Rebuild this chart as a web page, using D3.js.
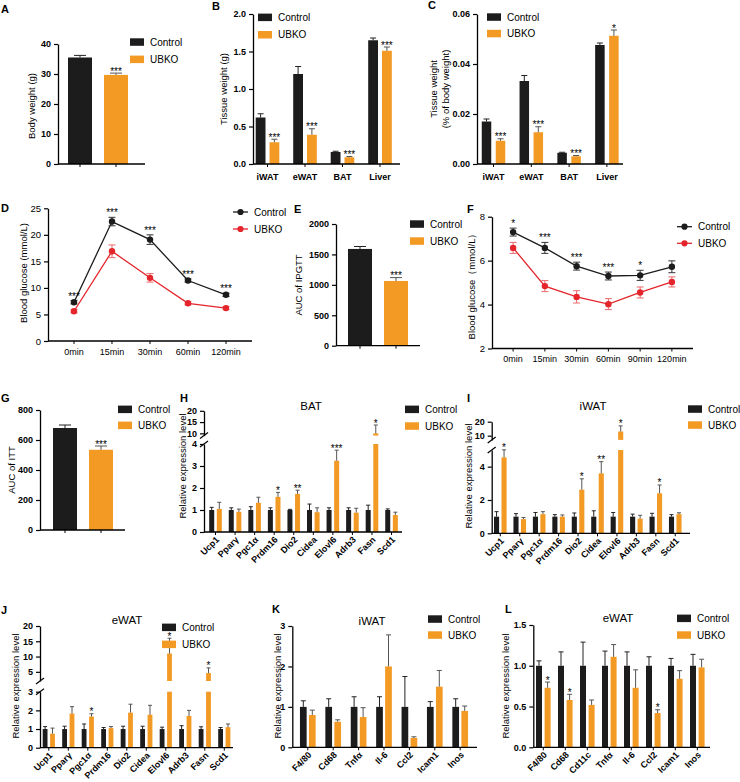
<!DOCTYPE html>
<html><head><meta charset="utf-8">
<script src="https://cdn.jsdelivr.net/npm/d3@7"></script>
<style>body{margin:0;background:#fff} svg{display:block} text{font-family:"Liberation Sans",Arial,Helvetica,sans-serif}</style>
</head><body><script>
// ---------------- DATA ----------------
const seriesNames = ["Control","UBKO"];
// A body weight
const bodyWeight = [35.5, 29.7];
const bodyWeightErr = [0.7, 0.6];
const bodyWeightSig = ["", "***"];
const ticksA = [0,10,20,30,40];
// B tissue weight
const tissues = ["iWAT","eWAT","BAT","Liver"];
const tissueCtrl = [0.62,1.20,0.16,1.65];
const tissueCtrlErr = [0.05,0.10,0.01,0.03];
const tissueUbko = [0.29,0.39,0.09,1.51];
const tissueUbkoErr = [0.04,0.08,0.01,0.05];
const tissueSig = ["***","***","***","***"];
const ticksB = [0,0.5,1.0,1.5,2.0];
// C tissue weight (% body weight)
const tissuePctCtrl = [0.0170,0.0332,0.0045,0.0476];
const tissuePctCtrlErr = [0.0010,0.0022,0.0002,0.0008];
const tissuePctUbko = [0.0093,0.0127,0.0031,0.0513];
const tissuePctUbkoErr = [0.0008,0.0022,0.0003,0.0023];
const tissuePctSig = ["***","***","***","*"];
const ticksC = [0,0.02,0.04,0.06];
// D IPGTT
const ipgttTimes = ["0min","15min","30min","60min","120min"];
const ipgttCtrl = [7.3,22.5,19.1,11.4,8.7];
const ipgttCtrlErr = [0.3,0.8,0.9,0.3,0.3];
const ipgttUbko = [5.6,16.9,11.9,7.1,6.2];
const ipgttUbkoErr = [0.3,1.2,0.8,0.3,0.3];
const ipgttSig = ["***","***","***","***","***"];
const ticksD = [0,5,10,15,20,25];
// E AUC IPGTT
const aucIpgtt = [1590,1064];
const aucIpgttErr = [40,55];
const aucIpgttSig = ["","***"];
const ticksE = [0,500,1000,1500,2000];
// F ITT
const ittTimes = ["0min","15min","30min","60min","90min","120min"];
const ittCtrl = [7.3,6.58,5.75,5.3,5.33,5.72];
const ittCtrlErr = [0.18,0.25,0.18,0.18,0.23,0.27];
const ittUbko = [6.58,4.84,4.35,4.02,4.55,5.03];
const ittUbkoErr = [0.25,0.25,0.28,0.25,0.25,0.23];
const ittSig = ["*","***","***","***","*",""];
const ticksF = [2,4,6,8];
// G AUC ITT
const aucItt = [680,535];
const aucIttErr = [20,25];
const aucIttSig = ["","***"];
const ticksG = [0,200,400,600,800];
// H-J thermogenic / lipogenic genes
const thermoGenes = ["Ucp1","Pparγ","Pgc1α","Prdm16","Dio2","Cidea","Elovl6","Adrb3","Fasn","Scd1"];
const batCtrl = [1,1,1,1,1,1,1,1,1,1];
const batCtrlErr = [0.12,0.1,0.15,0.1,0.03,0.27,0.1,0.1,0.22,0.05];
const batUbko = [1.05,0.92,1.33,1.6,1.73,0.9,3.24,0.88,10.0,0.77];
const batUbkoErr = [0.3,0.12,0.25,0.2,0.17,0.2,0.48,0.2,3.7,0.13];
const batSig = ["","","","*","**","","***","","*",""];
const ticksHLow = [0,1,2,3,4], ticksHHigh = [10,15,20];
const iwatCtrl = [1,1,1,1,1,1,1,1,1,1];
const iwatCtrlErr = [0.3,0.18,0.25,0.12,0.22,0.35,0.25,0.15,0.2,0.12];
const iwatUbko = [4.56,0.85,1.15,1.0,2.62,3.6,13,0.88,2.4,1.15];
const iwatUbkoErr = [0.45,0.1,0.15,0.1,0.65,0.7,4,0.2,0.5,0.08];
const iwatSig = ["*","","","","*","**","*","","*",""];
const ticksILow = [0,2,4], ticksIHigh = [10,20];
const ewatCtrl = [1,1,1,1,1,1,1,1,1,1];
const ewatCtrlErr = [0.13,0.15,0.27,0.08,0.15,0.15,0.1,0.18,0.12,0.08];
const ewatUbko = [0.75,1.83,1.67,1.05,1.88,1.77,11,1.7,4.6,1.1];
const ewatUbkoErr = [0.3,0.37,0.15,0.08,0.45,0.5,5,0.3,1.7,0.17];
const ewatSig = ["","","*","","","","*","","*",""];
const ticksJLow = [0,1,2,3], ticksJHigh = [5,10,15,20];
// K iWAT inflammation
const inflamGenesK = ["F4/80","Cd68","Tnfα","Il-6","Ccl2","Icam1","Inos"];
const iwatInfCtrl = [1,1,1,1,1,1,1];
const iwatInfCtrlErr = [0.15,0.2,0.25,0.25,0.75,0.13,0.2];
const iwatInfUbko = [0.8,0.63,0.75,2.0,0.23,1.5,0.9];
const iwatInfUbkoErr = [0.12,0.05,0.23,0.78,0.03,0.4,0.12];
const ticksK = [0,1,2,3];
// L eWAT inflammation
const inflamGenesL = ["F4/80","Cd68","Cd11c","Tnfα","Il-6","Ccl2","Icam1","Inos"];
const ewatInfCtrl = [1,1,1,1,1,1,1,1];
const ewatInfCtrlErr = [0.06,0.17,0.29,0.18,0.17,0.11,0.09,0.14];
const ewatInfUbko = [0.73,0.58,0.52,1.11,0.73,0.42,0.84,0.98];
const ewatInfUbkoErr = [0.07,0.07,0.06,0.15,0.22,0.04,0.1,0.1];
const ewatInfSig = ["*","*","","","","*","",""];
const ticksL = [0,0.5,1.0,1.5];

// ---------------- DRAWING ----------------
const FONT = '"Liberation Sans", Arial, Helvetica, sans-serif';
const CTRL = "#1c1c1c", UB = "#f29a24", RED = "#e4252b";
const ECTRL = "#222", EUB = "#555";
const plain = d => String(d);
const svg = d3.select("body").append("svg").attr("width",740).attr("height",782).style("font-family",FONT);

function yAxis(g, scale, x, ticks, fmt, bold, fs) {
  const ax = d3.axisLeft(scale).tickValues(ticks).tickSize(4).tickSizeOuter(0).tickPadding(3).tickFormat(fmt || plain);
  const a = g.append("g").attr("transform",`translate(${x},0)`).call(ax);
  a.select(".domain").attr("stroke","#000").attr("stroke-width",1.3);
  a.selectAll(".tick line").attr("stroke","#000").attr("stroke-width",1.2);
  a.selectAll(".tick text").attr("fill","#000").style("font-size",(fs||9)+"px")
    .style("font-weight",bold?"bold":"normal").style("font-family",FONT);
  return a;
}
function yTitle(x, y, lines, fs) {
  const t = svg.append("text").attr("transform",`translate(${x},${y}) rotate(-90)`)
    .attr("text-anchor","middle").style("font-size",(fs||9.5)+"px");
  lines.forEach((l,i)=> t.append("tspan").attr("x",0)
    .attr("dy", i===0 ? (-(lines.length-1)*0.65+0.35)+"em" : "1.3em").text(l));
}
function letter(x,y,s){ svg.append("text").attr("x",x).attr("y",y).text(s).style("font-size","11px").style("font-weight","bold"); }
function title(x,y,s){ svg.append("text").attr("x",x).attr("y",y).attr("text-anchor","middle").text(s).style("font-size","11.5px"); }
function legendRect(x, y, gap, items){
  items.forEach((it,i)=>{
    svg.append("rect").attr("x",x).attr("y",y+i*gap-3.7).attr("width",14).attr("height",7.5).attr("fill",it.color);
    svg.append("text").attr("x",x+20).attr("y",y+i*gap).attr("dy","0.35em").text(it.name).style("font-size","10px");
  });
}
function legendLine(x, y, gap, items){
  items.forEach((it,i)=>{
    svg.append("line").attr("x1",x).attr("x2",x+15).attr("y1",y+i*gap).attr("y2",y+i*gap).attr("stroke",it.color).attr("stroke-width",1.3);
    svg.append("circle").attr("cx",x+7.5).attr("cy",y+i*gap).attr("r",3.1).attr("fill",it.color);
    svg.append("text").attr("x",x+21).attr("y",y+i*gap).attr("dy","0.35em").text(it.name).style("font-size","10px");
  });
}

function barPanel(o){
  const g = svg.append("g");
  const yL = d3.scaleLinear().domain(o.yDomain).range(o.yRange);
  const yU = o.upDomain ? d3.scaleLinear().domain(o.upDomain).range(o.upRange) : null;
  const lowMax = o.yDomain[1];
  const base = o.yRange[0];
  const n = o.cats.length;
  const x0 = o.firstCenter - o.step/2;
  const x = d3.scaleBand().domain(o.cats).range([x0, x0 + o.step*n]);
  const ns = o.series.length, s = o.barW + o.gap;
  const xi = d3.scaleBand().domain(d3.range(ns)).range([0, o.step])
    .paddingInner(ns>1 ? o.gap/s : 0)
    .paddingOuter((o.step - ns*o.barW - (ns-1)*o.gap)/2/s);
  o.series.forEach((ser, si) => {
    o.cats.forEach((c, ci) => {
      const v = ser.vals[ci], e = ser.errs[ci];
      const color = ser.colors ? ser.colors[ci] : ser.color;
      const ecol = ser.errColors ? ser.errColors[ci] : ser.errColor;
      const bx = x(c) + xi(si), bw = xi.bandwidth(), cx = bx + bw/2;
      const broken = yU && v > lowMax;
      const sc = broken ? yU : yL;
      if (broken) {
        g.append("rect").attr("x",bx).attr("y",yL(lowMax)).attr("width",bw).attr("height",base-yL(lowMax)).attr("fill",color);
        g.append("rect").attr("x",bx).attr("y",yU(v)).attr("width",bw).attr("height",o.upRange[0]-yU(v)).attr("fill",color);
      } else {
        g.append("rect").attr("x",bx).attr("y",yL(v)).attr("width",bw).attr("height",base-yL(v)).attr("fill",color);
      }
      const yv = sc(v), yt = sc(v+e);
      g.append("line").attr("x1",cx).attr("x2",cx).attr("y1",yv).attr("y2",yt).attr("stroke",ecol).attr("stroke-width",1);
      g.append("line").attr("x1",cx-o.cap/2).attr("x2",cx+o.cap/2).attr("y1",yt).attr("y2",yt).attr("stroke",ecol).attr("stroke-width",1);
      if (ser.sig && ser.sig[ci]) g.append("text").attr("x",cx).attr("y",yt+1.5).attr("text-anchor","middle")
        .style("font-size","10px").text(ser.sig[ci]);
    });
  });
  yAxis(g, yL, o.axisX, o.ticks, o.fmt, o.bold);
  if (yU) {
    yAxis(g, yU, o.axisX, o.upTicks, o.fmt, o.bold);
    [o.yRange[1], o.upRange[0]].forEach(yb => {
      g.append("line").attr("x1",o.axisX-4).attr("x2",o.axisX+4).attr("y1",yb+3).attr("y2",yb-3)
        .attr("stroke","#000").attr("stroke-width",1.2);
    });
  }
  g.append("line").attr("x1",o.axisX).attr("x2",o.axisEnd).attr("y1",base).attr("y2",base).attr("stroke","#000").attr("stroke-width",1.3);
  o.cats.forEach(c => {
    const cx = x(c) + o.step/2;
    g.append("line").attr("x1",cx).attr("x2",cx).attr("y1",base).attr("y2",base+3).attr("stroke","#000").attr("stroke-width",1);
    if (o.xLabels === "flat") g.append("text").attr("x",cx).attr("y",o.xLabelY).attr("text-anchor","middle")
      .style("font-size","9px").style("font-weight","bold").text(c);
    if (o.xLabels === "rot") g.append("text").attr("transform",`translate(${cx+2},${base+6}) rotate(-45)`)
      .attr("text-anchor","end").attr("dy","0.35em").style("font-size","9px").style("font-weight","bold").text(c);
  });
}

function linePanel(o){
  const g = svg.append("g");
  const x = d3.scalePoint().domain(o.cats).range([o.axisX, o.axisEnd]).padding(o.pad);
  const y = d3.scaleLinear().domain(o.yDomain).range(o.yRange);
  const base = o.yRange[0];
  yAxis(g, y, o.axisX, o.ticks, null, false, 9.5);
  g.append("line").attr("x1",o.axisX).attr("x2",o.axisEnd).attr("y1",base).attr("y2",base).attr("stroke","#000").attr("stroke-width",1.3);
  o.cats.forEach(c => {
    g.append("line").attr("x1",x(c)).attr("x2",x(c)).attr("y1",base).attr("y2",base+3).attr("stroke","#000");
    g.append("text").attr("x",x(c)).attr("y",o.labelY).attr("text-anchor","middle").style("font-size","9px").text(c);
  });
  o.series.forEach(ser => {
    const line = d3.line().x((d,i)=>x(o.cats[i])).y(d=>y(d));
    g.append("path").attr("d",line(ser.vals)).attr("fill","none").attr("stroke",ser.color).attr("stroke-width",1.3);
    ser.vals.forEach((v,i) => {
      const cx = x(o.cats[i]), e = ser.errs[i];
      g.append("line").attr("x1",cx).attr("x2",cx).attr("y1",y(v-e)).attr("y2",y(v+e)).attr("stroke",ser.errColor).attr("stroke-width",1);
      [v-e, v+e].forEach(w => g.append("line").attr("x1",cx-3.5).attr("x2",cx+3.5).attr("y1",y(w)).attr("y2",y(w)).attr("stroke",ser.errColor).attr("stroke-width",1));
      g.append("circle").attr("cx",cx).attr("cy",y(v)).attr("r",3.2).attr("fill",ser.color);
      if (ser.sig && ser.sig[i]) g.append("text").attr("x",cx).attr("y",y(v+e)-1).attr("text-anchor","middle").style("font-size","10px").text(ser.sig[i]);
    });
  });
}

const legItems = [{name:seriesNames[0],color:CTRL},{name:seriesNames[1],color:UB}];

// A
letter(1,12.5,"A");
barPanel({cats:seriesNames, series:[{vals:bodyWeight, errs:bodyWeightErr, colors:[CTRL,UB], errColors:[ECTRL,EUB], sig:bodyWeightSig}],
  yDomain:[0,40], yRange:[164,44], ticks:ticksA, bold:true, axisX:58, axisEnd:145, firstCenter:80, step:36, barW:24, gap:0, cap:12});
yTitle(32,106,["Body weight (g)"]);
legendRect(130,42,17.3,legItems);

// B
letter(212,9.5,"B");
barPanel({cats:tissues, series:[{vals:tissueCtrl, errs:tissueCtrlErr, color:CTRL, errColor:ECTRL},{vals:tissueUbko, errs:tissueUbkoErr, color:UB, errColor:EUB, sig:tissueSig}],
  yDomain:[0,2], yRange:[164,14], ticks:ticksB, fmt:d3.format(".1f"), bold:true, axisX:253, axisEnd:400, firstCenter:267.5, step:37.5, barW:9.8, gap:4, cap:6, xLabels:"flat", xLabelY:180});
yTitle(224,89,["Tissue weight (g)"]);
legendRect(258,17.3,17.4,legItems);

// C
letter(428,8.5,"C");
barPanel({cats:tissues, series:[{vals:tissuePctCtrl, errs:tissuePctCtrlErr, color:CTRL, errColor:ECTRL},{vals:tissuePctUbko, errs:tissuePctUbkoErr, color:UB, errColor:EUB, sig:tissuePctSig}],
  yDomain:[0,0.06], yRange:[164,14], ticks:ticksC, fmt:d3.format(".2f"), bold:true, axisX:477, axisEnd:623, firstCenter:493.5, step:37.8, barW:9.5, gap:4.5, cap:6, xLabels:"flat", xLabelY:180});
yTitle(440,89,["Tissue weight","(% of body weight)"]);
legendRect(487,17,16.5,legItems);

// D
letter(1,212,"D");
linePanel({cats:ipgttTimes, yDomain:[0,25], yRange:[341,208.3], ticks:ticksD, axisX:48, axisEnd:252, pad:0.684, labelY:355,
  series:[{vals:ipgttUbko, errs:ipgttUbkoErr, color:RED, errColor:"#e8686b"},{vals:ipgttCtrl, errs:ipgttCtrlErr, color:CTRL, errColor:"#333", sig:ipgttSig}]});
yTitle(24,273,["Blood glucose (mmol/L)"]);
legendLine(233,212,17,[{name:seriesNames[0],color:CTRL},{name:seriesNames[1],color:RED}]);

// E
letter(294,213,"E");
barPanel({cats:seriesNames, series:[{vals:aucIpgtt, errs:aucIpgttErr, colors:[CTRL,UB], errColors:[ECTRL,EUB], sig:aucIpgttSig}],
  yDomain:[0,2000], yRange:[345.7,224], ticks:ticksE, bold:true, axisX:336, axisEnd:420, firstCenter:360, step:36, barW:24, gap:0, cap:12});
yTitle(299,285,["AUC of IPGTT"]);
legendRect(410,224,17,legItems);

// F
letter(467,213,"F");
linePanel({cats:ittTimes, yDomain:[2,8], yRange:[348.5,216.7], ticks:ticksF, axisX:492, axisEnd:693, pad:0.665, labelY:362,
  series:[{vals:ittUbko, errs:ittUbkoErr, color:RED, errColor:"#e8686b"},{vals:ittCtrl, errs:ittCtrlErr, color:CTRL, errColor:"#333", sig:ittSig}]});
yTitle(472,284,["Blood glucose（mmol/L）"]);
legendLine(677,226.7,16.6,[{name:seriesNames[0],color:CTRL},{name:seriesNames[1],color:RED}]);

// G
letter(1,402,"G");
barPanel({cats:seriesNames, series:[{vals:aucItt, errs:aucIttErr, colors:[CTRL,UB], errColors:[ECTRL,EUB], sig:aucIttSig}],
  yDomain:[0,800], yRange:[530,410], ticks:ticksG, bold:true, axisX:40, axisEnd:125, firstCenter:65, step:36, barW:24, gap:0, cap:12});
yTitle(12,470,["AUC of ITT"]);
legendRect(118,409.3,16,legItems);

// H
letter(180,402,"H");
barPanel({cats:thermoGenes, series:[{vals:batCtrl, errs:batCtrlErr, color:CTRL, errColor:ECTRL},{vals:batUbko, errs:batUbkoErr, color:UB, errColor:EUB, sig:batSig}],
  yDomain:[0,4], yRange:[532,444], ticks:ticksHLow, upDomain:[9,20], upRange:[435.6,410.8], upTicks:ticksHHigh, bold:true,
  axisX:204, axisEnd:402, firstCenter:215.5, step:19.56, barW:5, gap:2.6, cap:4, xLabels:"rot"});
yTitle(183,466,["Relative expression level"]);
title(311,410,"BAT");
legendRect(405,409.3,16.7,legItems);

// I
letter(467,402,"I");
barPanel({cats:thermoGenes, series:[{vals:iwatCtrl, errs:iwatCtrlErr, color:CTRL, errColor:ECTRL},{vals:iwatUbko, errs:iwatUbkoErr, color:UB, errColor:EUB, sig:iwatSig}],
  yDomain:[0,5], yRange:[533.3,450], ticks:ticksILow, upDomain:[7,20], upRange:[439.9,421.7], upTicks:ticksIHigh, bold:true,
  axisX:491.7, axisEnd:690, firstCenter:500.3, step:19.44, barW:5.1, gap:2.4, cap:4, xLabels:"rot"});
yTitle(469,476,["Relative expression level"]);
title(593,410,"iWAT");
legendRect(688,409,16,legItems);

// J
letter(1,614,"J");
barPanel({cats:thermoGenes, series:[{vals:ewatCtrl, errs:ewatCtrlErr, color:CTRL, errColor:ECTRL},{vals:ewatUbko, errs:ewatUbkoErr, color:UB, errColor:EUB, sig:ewatSig}],
  yDomain:[0,3], yRange:[747.7,691.7], ticks:ticksJLow, upDomain:[2,20], upRange:[681,626], upTicks:ticksJHigh, bold:true,
  axisX:40, axisEnd:233, firstCenter:48.8, step:19.5, barW:4.8, gap:2.6, cap:4, xLabels:"rot"});
yTitle(16,686,["Relative expression level"]);
title(127,624,"eWAT");
legendRect(162,627.3,17,legItems);

// K
letter(272,613,"K");
barPanel({cats:inflamGenesK, series:[{vals:iwatInfCtrl, errs:iwatInfCtrlErr, color:CTRL, errColor:ECTRL},{vals:iwatInfUbko, errs:iwatInfUbkoErr, color:UB, errColor:EUB}],
  yDomain:[0,3], yRange:[747.3,626], ticks:ticksK, bold:true,
  axisX:292.3, axisEnd:477, firstCenter:307.8, step:25.4, barW:6.7, gap:2.3, cap:5, xLabels:"rot"});
yTitle(278,686,["Relative expression level"]);
title(372,625,"iWAT");
legendRect(428,619,16,legItems);

// L
letter(505,613,"L");
barPanel({cats:inflamGenesL, series:[{vals:ewatInfCtrl, errs:ewatInfCtrlErr, color:CTRL, errColor:ECTRL},{vals:ewatInfUbko, errs:ewatInfUbkoErr, color:UB, errColor:EUB, sig:ewatInfSig}],
  yDomain:[0,1.5], yRange:[747.3,625], ticks:ticksL, fmt:d3.format(".1f"), bold:true,
  axisX:533.3, axisEnd:710, firstCenter:543.3, step:22, barW:6, gap:2.6, cap:5, xLabels:"rot"});
yTitle(506,686,["Relative expression level"]);
title(618,622,"eWAT");
legendRect(677,618.3,16.7,legItems);
</script></body></html>
